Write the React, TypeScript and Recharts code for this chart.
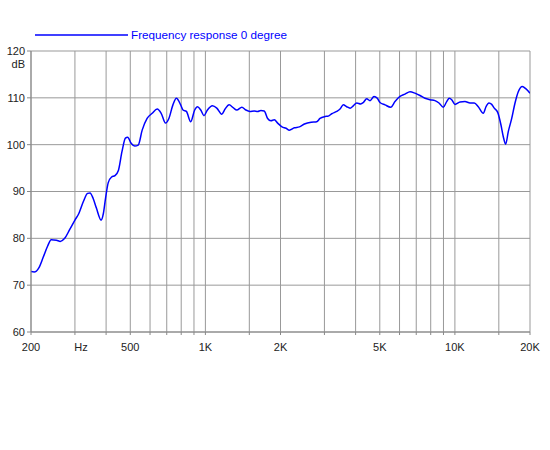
import React from "react";
import { LineChart, Line, XAxis, YAxis, CartesianGrid } from "recharts";

const freqHz = [
  200, 206, 215, 224, 233, 241, 253, 262, 273, 286, 300, 311, 324, 337, 345, 355, 366, 382, 390, 398,
  408, 421, 434, 448, 463, 478, 488, 504, 521, 538, 558, 584, 612, 641, 665, 692, 714, 741, 765, 796,
  813, 839, 873, 906, 929, 958, 987, 1019, 1067, 1111, 1163, 1199, 1245, 1292, 1336, 1400, 1453, 1508,
  1569, 1619, 1669, 1721, 1776, 1832, 1889, 1949, 2028, 2104, 2170, 2273, 2381, 2494, 2653, 2793, 2880,
  3016, 3109, 3209, 3360, 3464, 3571, 3684, 3799, 3917, 4042, 4193, 4295, 4431, 4569, 4740, 4888, 5010,
  5246, 5530, 5754, 6025, 6309, 6608, 6919, 7246, 7587, 7946, 8322, 8636, 8987, 9272, 9497, 9710, 10009,
  10484, 10977, 11495, 11960, 12410, 12995, 13324, 13697, 14044, 14384, 14844, 15301, 15631, 15982,
  16368, 16894, 17417, 17951, 18628, 19276, 20000,
];

const levelDb = [
  72.9, 72.8, 73.7, 76.0, 78.3, 79.7, 79.6, 79.35, 80.0, 81.9, 83.9, 85.3, 87.8, 89.6, 89.7, 88.5, 86.4, 83.9, 85.3, 88.6,
  91.9, 93.1, 93.4, 94.5, 98.5, 101.4, 101.6, 100.3, 99.7, 99.9, 103.1, 105.6, 106.7, 107.6, 106.7, 104.6, 105.6, 108.5, 109.9, 108.5,
  107.4, 107.1, 104.9, 107.4, 108.1, 107.4, 106.2, 107.4, 108.3, 107.8, 106.5, 107.6, 108.5, 107.9, 107.4, 108.0, 107.4, 107.1,
  107.2, 107.1, 107.3, 107.2, 105.6, 105.1, 105.3, 104.6, 103.8, 103.5, 103.1, 103.6, 103.8, 104.4, 104.8, 104.9, 105.6,
  106.0, 106.1, 106.6, 107.1, 107.6, 108.5, 108.1, 107.8, 108.3, 108.9, 108.7, 109.0, 109.8, 109.4, 110.3, 109.9, 109.0,
  108.5, 108.0, 109.2, 110.3, 110.8, 111.3, 111.0, 110.5, 109.9, 109.6, 109.4, 108.9, 108.0, 109.2, 109.9, 109.6, 108.6,
  109.1, 109.2, 108.9, 108.9, 108.1, 106.7, 108.1, 108.9, 108.6, 107.8, 106.9, 104.2, 101.7, 100.1,
  102.8, 105.6, 108.9, 111.3, 112.4, 111.9, 111.0,
];

const xGridTicks = [
  200, 300, 400, 500, 600, 700, 800, 900, 1000, 1500, 2000, 3000, 4000, 5000, 6000, 7000, 8000, 9000,
  10000, 15000, 20000,
];
const xTickLabels: Record<number, string> = {
  200: "200",
  300: "Hz",
  500: "500",
  1000: "1K",
  2000: "2K",
  5000: "5K",
  10000: "10K",
  20000: "20K",
};
const yTicks = [60, 70, 80, 90, 100, 110, 120];
const yUnit = "dB";
const seriesName = "Frequency response 0 degree";

const data = freqHz.map((f, i) => ({ f, db: levelDb[i] }));

const FONT = '"Liberation Sans", Arial, Helvetica, sans-serif';
const BLUE = "#0000ff";

const XTick = (props: any) => {
  const { x, y, payload } = props;
  const label = xTickLabels[payload.value];
  if (!label) return <g />;
  const dx = payload.value === 300 ? 6 : 0;
  return (
    <text x={x + dx} y={y} dy="0.71em" textAnchor="middle" fontSize={11} fill="#222" fontFamily={FONT}>
      {label}
    </text>
  );
};

const YTick = (props: any) => {
  const { x, y, payload } = props;
  return (
    <g>
      <text x={x} y={y} dy="0.355em" textAnchor="end" fontSize={11} fill="#222" fontFamily={FONT}>
        {payload.value}
      </text>
      {payload.value === 120 ? (
        <text x={x} y={y + 13} dy="0.355em" textAnchor="end" fontSize={11} fill="#222" fontFamily={FONT}>
          {yUnit}
        </text>
      ) : null}
    </g>
  );
};

export default function App() {
  return (
    <div style={{ position: "absolute", left: 0, top: 0, width: 550, height: 450, background: "#fff" }}>
      <div
        style={{
          position: "absolute",
          left: 35,
          top: 28,
          display: "flex",
          alignItems: "center",
          fontFamily: FONT,
          fontSize: 11.7,
          color: BLUE,
          whiteSpace: "nowrap",
          zIndex: 2,
        }}
      >
        <svg width={96} height={4} style={{ display: "block" }}>
          <line x1={0} y1={2} x2={93} y2={2} stroke={BLUE} strokeWidth={1.3} />
        </svg>
        <span>{seriesName}</span>
      </div>
      <LineChart width={550} height={450} data={data} margin={{ top: 51, right: 20, left: 0, bottom: 88 }}>
        <CartesianGrid stroke="#999" strokeWidth={1} />
        <XAxis
          dataKey="f"
          type="number"
          scale="log"
          domain={[200, 20000]}
          ticks={xGridTicks}
          interval={0}
          allowDataOverflow
          height={30}
          tick={<XTick />}
          tickSize={3}
          tickMargin={8}
          axisLine={{ stroke: "#888" }}
          tickLine={{ stroke: "#888" }}
        />
        <YAxis
          type="number"
          domain={[60, 120]}
          ticks={yTicks}
          interval={0}
          width={31}
          tick={<YTick />}
          tickSize={4}
          tickMargin={2}
          axisLine={{ stroke: "#888" }}
          tickLine={{ stroke: "#888" }}
        />
        <Line
          type="monotone"
          dataKey="db"
          stroke={BLUE}
          strokeWidth={1.5}
          dot={false}
          isAnimationActive={false}
        />
      </LineChart>
    </div>
  );
}
